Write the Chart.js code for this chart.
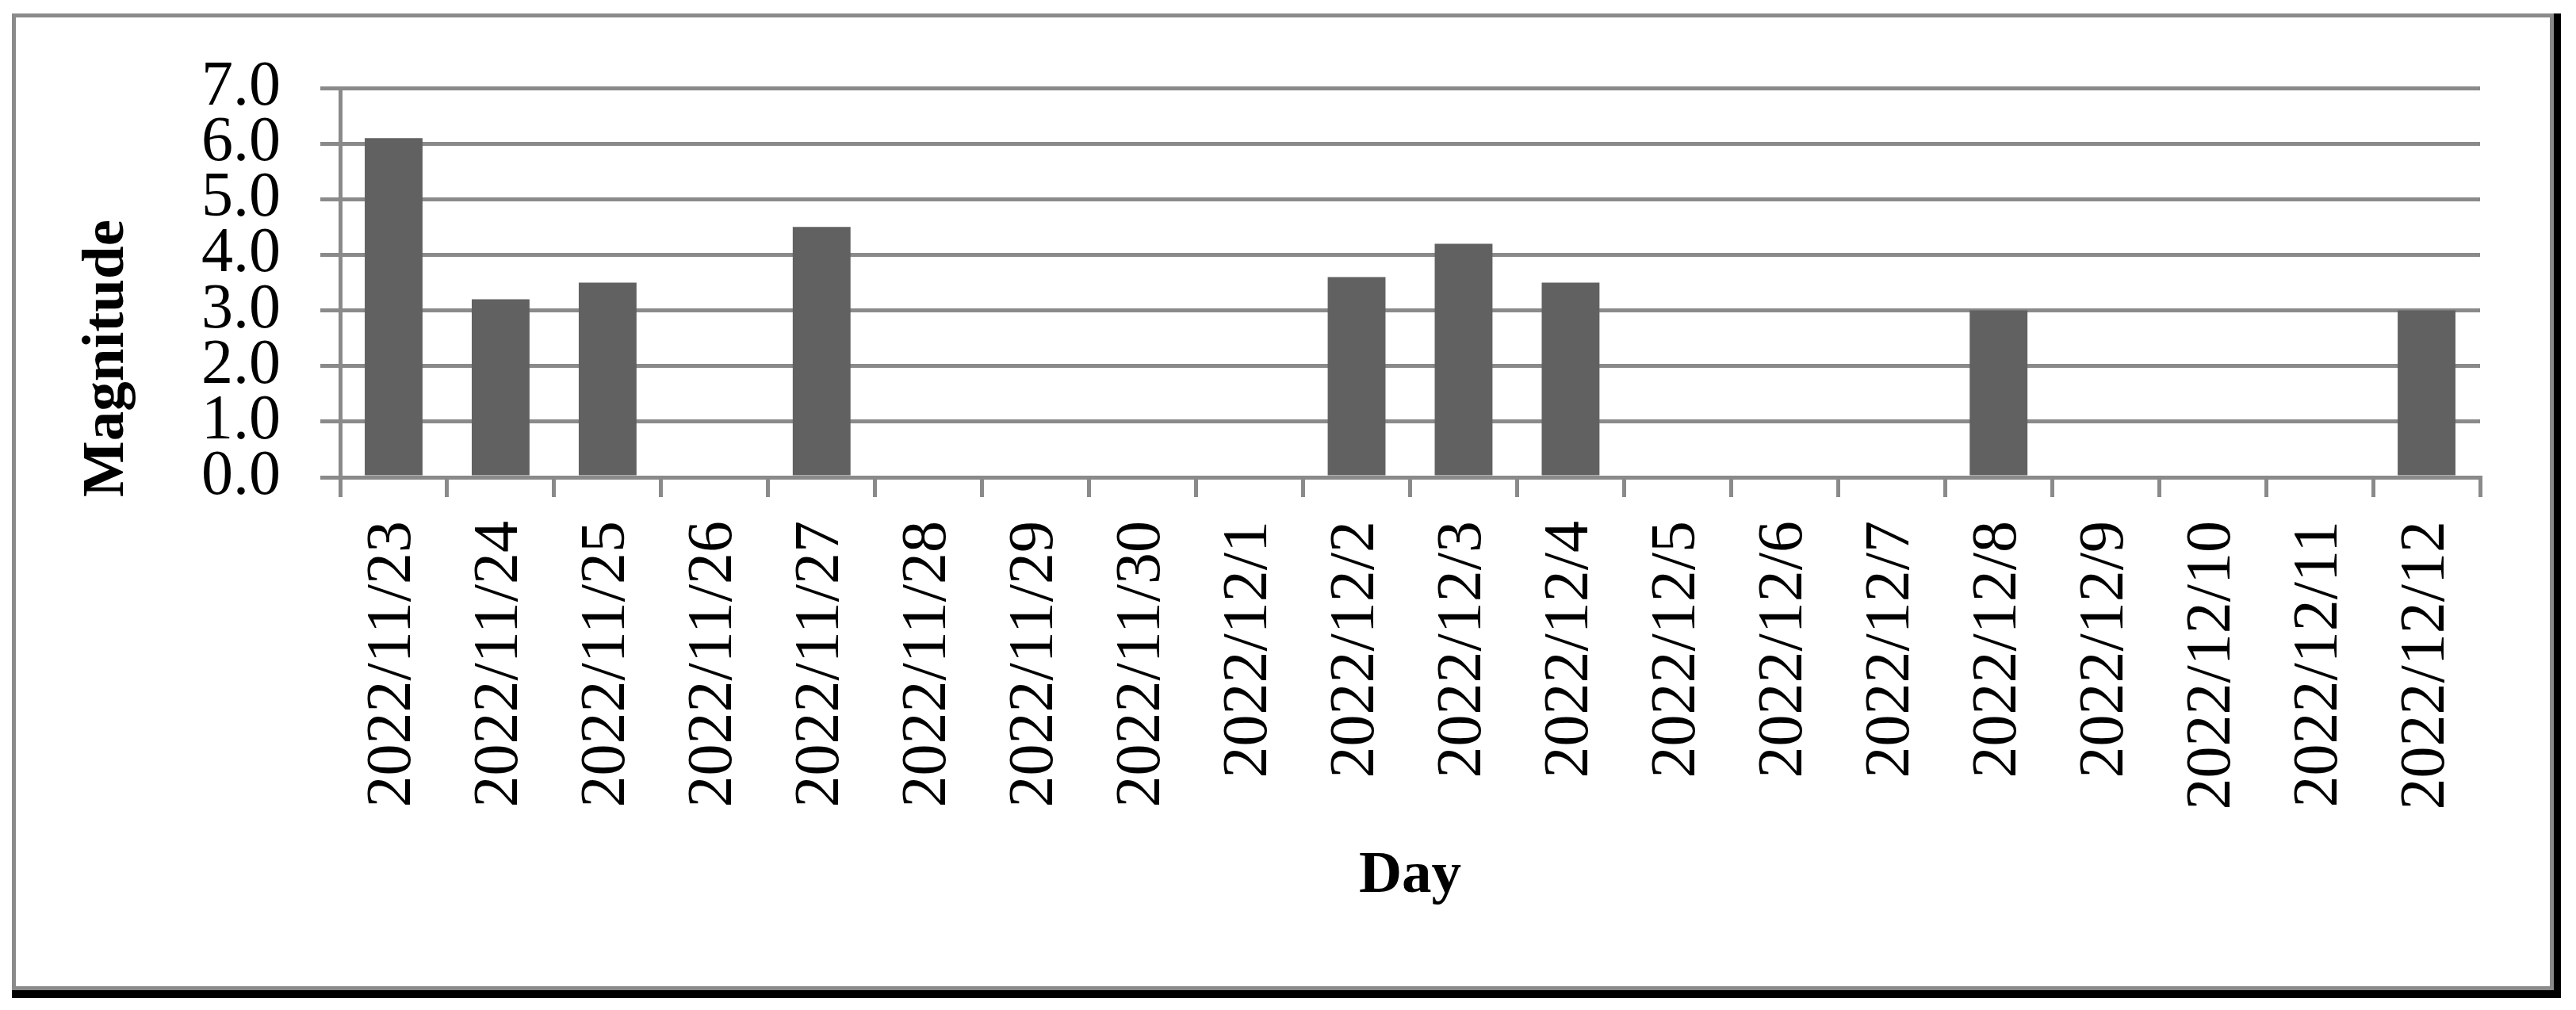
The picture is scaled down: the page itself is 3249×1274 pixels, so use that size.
<!DOCTYPE html>
<html>
<head>
<meta charset="utf-8">
<script src="https://cdn.jsdelivr.net/npm/chart.js@4"></script>
<style>
  html, body { margin: 0; padding: 0; background: #fff; }
  #wrap { position: relative; width: 3249px; height: 1274px; overflow: hidden; }
  #shadow { position: absolute; left: 15px; top: 17px; width: 3215px; height: 1242px; background: #000; }
  #frame { position: absolute; left: 15px; top: 17px; width: 3206px; height: 1232px; box-sizing: border-box;
           border: 5px solid #8a8a8a; background: #fff; }
  #chart { position: absolute; left: 0; top: 0; }
</style>
</head>
<body>
<div id="wrap">
  <div id="shadow"></div>
  <div id="frame"></div>
  <canvas id="chart" width="3249" height="1274"></canvas>
</div>
<script>
const days = [
  '2022/11/23', '2022/11/24', '2022/11/25', '2022/11/26', '2022/11/27',
  '2022/11/28', '2022/11/29', '2022/11/30', '2022/12/1', '2022/12/2',
  '2022/12/3', '2022/12/4', '2022/12/5', '2022/12/6', '2022/12/7',
  '2022/12/8', '2022/12/9', '2022/12/10', '2022/12/11', '2022/12/12',
];
const magnitudes = [6.1, 3.2, 3.5, 0, 4.5, 0, 0, 0, 0, 3.6, 4.2, 3.5, 0, 0, 0, 3.0, 0, 0, 0, 3.0];
const yTitle = 'Magnitude';
const xTitle = 'Day';

const lineGray = '#8a8a8a';
const serif = '"Liberation Serif", "Times New Roman", serif';

// axis titles drawn by hand so they sit where the original has them
const axisTitles = {
  id: 'axisTitles',
  afterDraw(chart) {
    const { ctx, chartArea } = chart;
    ctx.save();
    ctx.fillStyle = '#000';
    ctx.font = `bold 75px ${serif}`;
    ctx.textAlign = 'center';
    ctx.textBaseline = 'alphabetic';
    ctx.fillText(xTitle, (chartArea.left + chartArea.right) / 2, 1125);
    ctx.translate(155, 452);
    ctx.rotate(-Math.PI / 2);
    ctx.fillText(yTitle, 0, 0);
    ctx.restore();
  },
};

new Chart(document.getElementById('chart'), {
  type: 'bar',
  data: {
    labels: days,
    datasets: [{
      data: magnitudes,
      backgroundColor: '#616161',
      borderWidth: 0,
      categoryPercentage: 1,
      barPercentage: 0.54,
    }],
  },
  options: {
    responsive: false,
    animation: false,
    devicePixelRatio: 1,
    layout: { padding: { left: 0, top: 111, right: 121, bottom: 0 } },
    plugins: { legend: { display: false }, tooltip: { enabled: false } },
    scales: {
      x: {
        afterFit: (scale) => { scale.height = 672; },
        grid: { drawOnChartArea: false, color: lineGray, lineWidth: 5, tickLength: 25, tickWidth: 5 },
        border: { color: lineGray, width: 5 },
        ticks: {
          autoSkip: false,
          minRotation: 90,
          maxRotation: 90,
          padding: 30,
          color: '#000',
          font: { family: serif, size: 80 },
        },
      },
      y: {
        min: 0,
        max: 7,
        afterFit: (scale) => { scale.width = 429; },
        grid: { color: lineGray, lineWidth: 5, tickLength: 25 },
        border: { color: lineGray, width: 5 },
        ticks: {
          stepSize: 1,
          autoSkip: false,
          padding: 50,
          color: '#000',
          font: { family: serif, size: 80 },
          callback: (v) => Number(v).toFixed(1),
        },
      },
    },
  },
  plugins: [axisTitles],
});
</script>
</body>
</html>
